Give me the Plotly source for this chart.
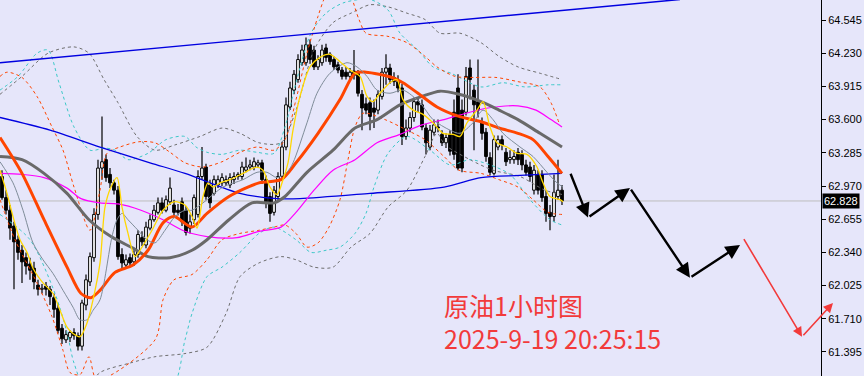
import plotly.graph_objects as go

# ---------------- data (1h crude oil) ----------------
open_ = [63.06,62.86,62.74,62.59,62.46,62.36,62.29,62.23,62.19,62.03,
 61.99,62.02,61.99,61.91,61.81,61.62,61.51,61.53,61.58,61.55,
 61.45,61.84,62.06,62.29,62.70,63.14,63.22,63.08,63.00,62.93,
 62.32,62.22,62.29,62.25,62.32,62.48,62.41,62.57,62.65,62.72,
 62.81,62.74,62.82,62.79,62.74,62.82,62.74,62.57,62.65,62.70,
 63.06,63.15,62.98,62.90,62.98,63.00,63.00,62.98,63.03,63.06,
 63.06,63.12,63.15,63.15,63.17,63.19,63.03,62.87,62.72,62.87,
 63.06,63.34,63.72,63.88,63.98,64.14,64.14,64.31,64.26,64.10,
 64.14,64.28,64.22,64.17,64.12,64.07,64.05,64.01,64.06,64.04,
 63.84,63.75,63.76,63.71,63.69,63.82,64.05,64.09,64.00,63.96,
 63.90,63.44,63.52,63.62,63.77,63.74,63.52,63.34,63.48,63.53,
 63.46,63.38,63.46,63.67,63.90,63.69,63.67,64.09,63.88,63.77,
 63.57,63.48,63.24,63.09,63.34,63.41,63.29,63.22,63.22,63.29,
 63.27,63.17,63.15,62.93,63.08,63.08,62.87,62.72,62.68,62.87,
 62.93]
high = [63.12,62.93,62.79,62.63,62.50,62.41,62.34,62.29,62.25,62.08,
 62.04,62.06,62.02,61.95,61.86,61.66,61.60,61.60,61.62,61.58,
 61.89,62.13,62.34,62.76,63.22,63.63,63.27,63.14,63.03,62.97,
 62.38,62.32,62.33,62.36,62.55,62.54,62.63,62.70,62.79,62.86,
 62.86,62.88,63.05,62.84,62.80,62.86,62.78,62.70,62.89,63.12,
 63.34,63.18,63.03,63.07,63.07,63.09,63.07,63.09,63.10,63.10,
 63.20,63.24,63.22,63.24,63.22,63.22,63.07,62.91,62.97,63.10,
 63.39,63.81,63.96,64.07,64.22,64.31,64.38,64.36,64.30,64.21,
 64.31,64.32,64.24,64.20,64.15,64.10,64.10,64.09,64.26,64.07,
 63.88,63.81,63.81,63.79,63.88,64.09,64.22,64.13,64.05,64.02,
 63.94,63.60,63.67,63.81,63.81,63.79,63.56,63.55,63.60,63.60,
 63.50,63.47,63.50,63.79,64.03,63.79,64.10,64.17,63.93,64.17,
 63.62,63.52,63.29,63.45,63.45,63.45,63.33,63.31,63.31,63.33,
 63.31,63.22,63.20,63.17,63.12,63.12,62.93,62.79,63.08,63.22,
 62.98]
low = [62.84,62.70,62.46,61.99,62.27,62.05,62.13,62.08,61.99,61.93,
 61.95,61.93,61.84,61.72,61.57,61.47,61.48,61.49,61.51,61.41,
 61.41,61.79,62.02,62.25,62.65,63.03,63.01,62.95,62.89,62.27,
 62.19,62.19,62.21,62.21,62.29,62.40,62.38,62.55,62.63,62.70,
 62.71,62.72,62.79,62.69,62.69,62.59,62.50,62.52,62.61,62.67,
 63.03,62.84,62.76,62.88,62.95,62.97,62.97,62.95,62.99,63.03,
 63.03,63.10,63.12,63.12,63.14,62.99,62.76,62.63,62.69,62.84,
 63.03,63.31,63.69,63.84,63.95,64.11,64.11,64.13,64.07,64.07,
 64.11,64.15,64.12,64.07,64.04,63.98,63.98,63.98,63.98,63.82,
 63.50,63.65,63.50,63.52,63.65,63.79,63.93,63.94,63.92,63.86,
 63.36,63.41,63.48,63.58,63.67,63.50,63.27,63.31,63.45,63.48,
 63.35,63.33,63.26,63.22,63.12,63.10,63.64,63.79,63.31,63.62,
 63.41,63.20,63.07,63.07,63.31,63.31,63.16,63.18,63.18,63.17,
 63.12,63.07,63.01,62.89,62.89,62.82,62.63,62.55,62.63,62.84,
 62.79]
close = [62.86,62.74,62.57,62.44,62.34,62.25,62.21,62.17,62.06,61.99,
 62.00,61.99,61.92,61.80,61.60,61.52,61.56,61.58,61.55,61.45,
 61.86,62.08,62.30,62.70,63.14,63.20,63.05,63.00,62.93,62.30,
 62.24,62.27,62.24,62.32,62.51,62.44,62.58,62.65,62.74,62.81,
 62.74,62.84,62.95,62.72,62.72,62.63,62.53,62.63,62.86,63.06,
 63.14,62.87,62.81,63.03,63.03,63.05,63.03,63.05,63.06,63.08,
 63.15,63.15,63.17,63.20,63.19,63.03,62.81,62.71,62.93,63.06,
 63.34,63.74,63.90,64.03,64.17,64.26,64.31,64.17,64.10,64.17,
 64.26,64.19,64.15,64.10,64.07,64.01,64.01,64.05,64.02,63.85,
 63.71,63.69,63.63,63.67,63.84,64.05,64.09,63.98,63.96,63.90,
 63.44,63.52,63.62,63.77,63.74,63.53,63.38,63.50,63.55,63.52,
 63.38,63.43,63.30,63.27,63.14,63.14,64.01,63.98,63.74,63.69,
 63.47,63.25,63.10,63.41,63.41,63.36,63.20,63.24,63.25,63.22,
 63.17,63.10,63.06,63.12,62.93,62.86,62.71,62.68,62.91,62.93,
 62.83]
last_price = 62.828

# indicator lines: (bar position, price)
ma_blue_x = [-0.5,12,24.5,37,45.75,59.5,68.75,74.5,92,110.5,119.75,129.5,140]
ma_blue_y = [63.62,63.50,63.34,63.19,63.09,62.90,62.85,62.85,62.90,62.96,63.05,63.07,63.09]

ma_orange_x = [-0.5,5,10.5,16.25,19.75,22.25,24.5,28.25,32.75,36.5,40.25,43,47.5,51.25,56.75,64.25,69.75,73.5,79,84.5,88.25,91,97.5,100.25,104,108.75,114.25,119.75,124.25,129,132.75,136.5,140]
ma_orange_y = [63.43,63.09,62.65,62.20,61.95,61.91,61.98,62.15,62.22,62.36,62.62,62.68,62.58,62.71,62.87,63.00,63.03,63.19,63.47,63.79,64.04,64.05,64.00,63.95,63.85,63.72,63.63,63.58,63.52,63.47,63.41,63.25,63.09]

ma_gray_x = [-0.5,5,10.5,16.25,21.75,27.25,32.75,36.5,42,47.5,51.25,56.75,62.5,68,70.75,76.25,82.75,88.25,93.75,99.5,105,109.5,114.25,119.75,124.25,129,134.5,140]
ma_gray_y = [63.25,63.22,63.09,62.90,62.65,62.49,62.38,62.30,62.29,62.36,62.46,62.65,62.81,62.81,62.87,63.10,63.31,63.52,63.60,63.74,63.82,63.87,63.84,63.77,63.69,63.60,63.47,63.34]

ma_magenta_x = [-0.5,5,10.5,16.25,19.75,24.5,29,34.75,40.25,45.75,51.25,58.75,64.25,69.75,73.5,78,82.75,88.25,93.75,99.5,105,110.5,116,121.5,129,133.5,137.25,140]
ma_magenta_y = [63.09,63.08,63.05,62.95,62.85,62.81,62.80,62.74,62.65,62.54,62.49,62.48,62.54,62.58,62.72,62.93,63.12,63.22,63.38,63.46,63.55,63.60,63.66,63.71,63.73,63.69,63.60,63.53]

ma_yellow_x = [-0.5,1.25,2.75,4.5,6.25,7.75,10.25,12.75,14.5,16.25,17.75,19.5,21.25,22.75,24.5,25.75,27.25,28.75,30,31.5,33.25,35,37.5,40.25,43,45.75,47.5,48.75,50.25,51.5,52.75,54.5,57,60.25,63.75,65.25,67,68.75,70.25,71.5,72.75,74.5,77,79.5,82,84.5,87,89.5,91.25,92.75,94.5,97,98.75,100.25,102.75,105.25,107.75,110.25,112.75,114.5,116.25,118.75,120.25,122,123.75,126.25,128.75,131.25,133.75,135.25,137,139.5,140.25]
ma_yellow_y = [63.12,62.90,62.68,62.46,62.34,62.19,62.05,61.95,61.79,61.63,61.57,61.54,61.67,61.89,62.24,62.77,62.96,63.05,62.77,62.52,62.30,62.39,62.55,62.74,62.82,62.79,62.68,62.57,62.87,63.00,62.96,63.00,63.03,63.09,63.15,63.12,62.96,62.89,63.03,63.19,63.50,63.82,64.10,64.19,64.22,64.15,64.07,64.01,63.82,63.77,63.85,63.95,63.98,63.79,63.69,63.65,63.57,63.47,63.46,63.44,63.57,63.69,63.77,63.53,63.38,63.34,63.28,63.27,63.15,63.00,62.87,62.84,62.82]

ma_thin_x = [-0.5,2.75,5.25,7.75,10.25,12.75,15.25,17.75,19.5,21.25,22.75,24.5,27.5,28.75,30,31.5,34,36.25,38.25,40.75,43.25,45.75,47.5,50.25,55.25,60.25,63.75,66.25,68.75,71.25,72.75,76.25,78.75,82,86.25,88.75,91.25,93.75,97,100.25,104.5,107.75,112,114.5,117.75,120.25,122.75,125.25,129.5,132.75,136.25,138.75,140.25]
ma_thin_y = [63.20,63.00,62.74,62.43,62.27,62.14,61.98,61.82,61.70,61.70,61.79,61.89,62.49,62.65,62.71,62.65,62.55,62.46,62.43,62.55,62.68,62.74,62.74,62.81,62.96,63.03,63.10,63.10,63.05,63.10,63.19,63.57,63.85,64.04,64.14,64.10,64.01,63.88,63.85,63.88,63.76,63.60,63.50,63.47,63.57,63.69,63.60,63.47,63.34,63.25,63.10,63.00,62.96]

bb_orange_up_x = [-0.5,1.25,5,8.75,12.5,15.25,18,22,24.5,26.25,29.5,34.25,38.25,42,45.75,50.25,55,59.5,63.75,68,70.75,73.5,76.25,79,81,84.5,89.25,91,96.5,101.25,105.75,108.75,113.25,118,123.5,129,134.5,137.25,139.25]
bb_orange_up_y = [64.01,64.05,64.00,63.82,63.53,63.31,62.96,62.55,62.93,63.28,63.34,63.39,63.38,63.29,63.19,63.15,63.20,63.29,63.34,63.31,63.41,63.79,64.23,64.58,64.79,65.02,64.55,64.42,64.39,64.33,64.20,64.10,64.01,64.00,64.00,63.96,63.91,63.76,63.57]
bb_orange_dn_x = [-0.5,3.25,8.75,12.5,15.25,17,19.5,21.75,23.75,38.25,40.25,43,47.5,51.25,55,59.5,64.25,68,70.75,73.5,76.25,79,81.75,84.5,86.5,88.25,90.25,95.75,101.25,105.75,110.5,114.25,119.75,124.25,129,132.75,136.5,140]
bb_orange_dn_y = [62.84,62.46,62.05,61.73,61.41,61.20,61.18,61.35,61.13,61.51,61.89,62.08,62.13,62.27,62.46,62.52,62.55,62.58,62.60,62.52,62.39,62.43,62.58,62.84,63.22,63.53,63.66,63.60,63.50,63.41,63.25,63.12,63.09,63.03,62.96,62.84,62.72,62.70]

bb_cyan_up_x = [-0.5,4,8.75,11.5,14.25,18,22,25.75,28.25,31.5,36.5,41,45.75,48.5,51.25,55,59.5,63.75,68,70.75,73.5,77.25,81,85.5,92,96.5,99.5,104,107.75,112.25,119.75,125.25,130.75,136.5,140]
bb_cyan_up_y = [63.88,64.01,64.23,64.26,63.95,63.53,63.31,63.33,63.31,63.22,63.28,63.41,63.44,63.34,63.29,63.27,63.31,63.29,63.28,63.53,63.95,64.42,64.61,64.71,64.74,64.64,64.42,64.26,64.10,64.04,63.91,63.95,63.91,63.93,63.93]
bb_cyan_dn_x = [-0.5,7,13.25,16.25,18,20.75,42,45.75,47.5,51.25,55,59.5,64.25,68,73.5,77.25,81,84.5,88.25,91,93,96.5,101.25,107,112,117,122,127,132,137,140]
bb_cyan_dn_y = [62.70,62.46,61.95,61.58,61.29,61.08,61.03,61.51,61.76,62.11,62.20,62.34,62.52,62.58,62.46,62.34,62.36,62.39,62.52,62.71,62.96,63.28,63.44,63.31,63.17,63.22,63.17,63.08,62.84,62.65,62.60]

bb_gray_up_x = [-0.5,5,11.5,18,21.75,25.5,29,33.75,38.25,43.25,49.5,55,59.5,64.25,69.75,73.5,78,82.75,87.25,92,96.5,101.25,105.75,109.5,114.5,119.75,124.25,129,134.5,140]
bb_gray_up_y = [63.84,64.01,64.23,64.29,64.23,63.98,63.76,63.44,63.31,63.36,63.44,63.52,63.47,63.38,63.38,63.69,64.26,64.52,64.61,64.69,64.67,64.61,64.55,64.42,64.42,64.33,64.20,64.10,64.04,63.98]
bb_gray_dn_x = [22,24.5,32,38.25,45.75,51.25,56,59.5,64.25,69.75,73.5,78,82.75,87.25,92,96.5,101.25,105.75,108.75,110.75,117,122.75,129.5,135.75,140]
bb_gray_dn_y = [61.08,61.20,61.29,61.35,61.38,61.44,61.76,62.11,62.24,62.30,62.27,62.20,62.20,62.39,62.52,62.77,62.93,63.25,63.47,63.36,63.22,63.12,63.06,62.93,62.89]

trend_x = [-0.5, 169.5]
trend_y = [64.14, 64.74]

# hand-drawn forecast path: (bar position, price)
black_path_x = [142, 146.5, 157, 172, 184.5]
black_path_y = [63.10, 62.67, 62.95, 62.10, 62.41]
red_path_x = [185.25, 200, 207.75]
red_path_y = [62.48, 61.54, 61.86]

price_ticks = [64.545, 64.230, 63.915, 63.600, 63.285, 62.970, 62.655, 62.340, 62.025, 61.710, 61.395]
title_lines = ["原油1小时图", "2025-9-19 20:25:15"]

X_RANGE = [-0.5, 204.75]
Y_RANGE = [61.167, 64.735]
BG = "#E6E6FA"

fig = go.Figure()

# candle bodies
idx = list(range(len(close)))
bull = [i for i in idx if close[i] >= open_[i]]
bear = [i for i in idx if close[i] < open_[i]]
for group, fill in ((bull, "white"), (bear, "black")):
    fig.add_trace(go.Bar(
        x=group,
        y=[max(abs(close[i] - open_[i]), 0.004) for i in group],
        base=[min(close[i], open_[i]) for i in group],
        width=0.68, marker=dict(color=fill, line=dict(color="black", width=1)),
        hoverinfo="skip"))

# wicks (outside bodies only)
wx, wy = [], []
for i in idx:
    top, bot = max(open_[i], close[i]), min(open_[i], close[i])
    if high[i] > top:
        wx += [i, i, None]; wy += [top, high[i], None]
    if low[i] < bot:
        wx += [i, i, None]; wy += [bot, low[i], None]
fig.add_trace(go.Scatter(x=wx, y=wy, mode="lines", line=dict(color="black", width=1.2), hoverinfo="skip"))

def line(xs, ys, color, width, dash=None, spline=True):
    fig.add_trace(go.Scatter(
        x=xs, y=ys, mode="lines",
        line=dict(color=color, width=width, dash=dash,
                  shape="spline" if spline else "linear", smoothing=0.8),
        hoverinfo="skip"))

DASH = "3px,3px"
line(bb_gray_up_x, bb_gray_up_y, "#6E6E6E", 1, DASH)
line(bb_gray_dn_x, bb_gray_dn_y, "#6E6E6E", 1, DASH)
line(bb_cyan_up_x, bb_cyan_up_y, "#3CC8C8", 1, DASH)
line(bb_cyan_dn_x, bb_cyan_dn_y, "#3CC8C8", 1, DASH)
line(bb_orange_up_x, bb_orange_up_y, "#FF4500", 1, DASH)
line(bb_orange_dn_x, bb_orange_dn_y, "#FF4500", 1, DASH)
line(ma_blue_x, ma_blue_y, "#0000E0", 1.3)
line(trend_x, trend_y, "#0000E0", 1.4, spline=False)
line(ma_magenta_x, ma_magenta_y, "#FF00FF", 1.2)
line(ma_gray_x, ma_gray_y, "#696969", 3)
line(ma_orange_x, ma_orange_y, "#FF4500", 3)
line(ma_thin_x, ma_thin_y, "#7F8C99", 1)
line(ma_yellow_x, ma_yellow_y, "#FFD700", 1.3)

# last price line
fig.add_shape(type="line", xref="paper", x0=0, x1=1, yref="y", y0=last_price, y1=last_price,
              line=dict(color="#BEBEBE", width=1), layer="below")

# forecast arrows
for k in range(len(black_path_x) - 1):
    fig.add_annotation(x=black_path_x[k + 1], y=black_path_y[k + 1],
                       ax=black_path_x[k], ay=black_path_y[k],
                       xref="x", yref="y", axref="x", ayref="y", text="",
                       showarrow=True, arrowhead=2, arrowsize=1.2, arrowwidth=2.4,
                       arrowcolor="black", standoff=0)
RED = "#F23A3A"
def to_domain(v):
    return (v - X_RANGE[0]) / (X_RANGE[1] - X_RANGE[0])
for k in range(len(red_path_x) - 1):
    fig.add_annotation(x=to_domain(red_path_x[k + 1]), y=red_path_y[k + 1],
                       ax=to_domain(red_path_x[k]), ay=red_path_y[k],
                       xref="x domain", yref="y", axref="x domain", ayref="y", text="",
                       showarrow=True, arrowhead=2, arrowsize=1.2, arrowwidth=1.6,
                       arrowcolor=RED, standoff=0)

# title (two lines, one text block)
fig.add_annotation(text="<br>".join(title_lines), xref="paper", yref="paper",
                   x=0.538, y=0.242, xanchor="left", yanchor="top", align="left",
                   showarrow=False,
                   font=dict(family="Noto Sans CJK SC", size=25, color=RED))

# current price tag
fig.add_annotation(text=f"{last_price:.3f}", xref="paper", yref="y", x=1, y=last_price,
                   xanchor="left", yanchor="middle", xshift=1, showarrow=False,
                   bgcolor="black", borderpad=1,
                   font=dict(family="Liberation Sans, Arial", size=11, color="white"))

fig.update_layout(
    width=864, height=376,
    margin=dict(l=0, r=43, t=0, b=0),
    paper_bgcolor=BG, plot_bgcolor=BG,
    showlegend=False, barmode="overlay",
    xaxis=dict(range=X_RANGE, visible=False, fixedrange=True),
    yaxis=dict(range=Y_RANGE, side="right", tickvals=price_ticks,
               ticktext=[f"{v:.3f}" for v in price_ticks],
               showgrid=False, zeroline=False, showline=True, linecolor="black",
               linewidth=1, ticks="outside", ticklen=4, tickcolor="black",
               tickfont=dict(family="Liberation Sans, Arial", size=11, color="black"),
               fixedrange=True),
)

fig.write_html("out.html", config={"displayModeBar": False})
